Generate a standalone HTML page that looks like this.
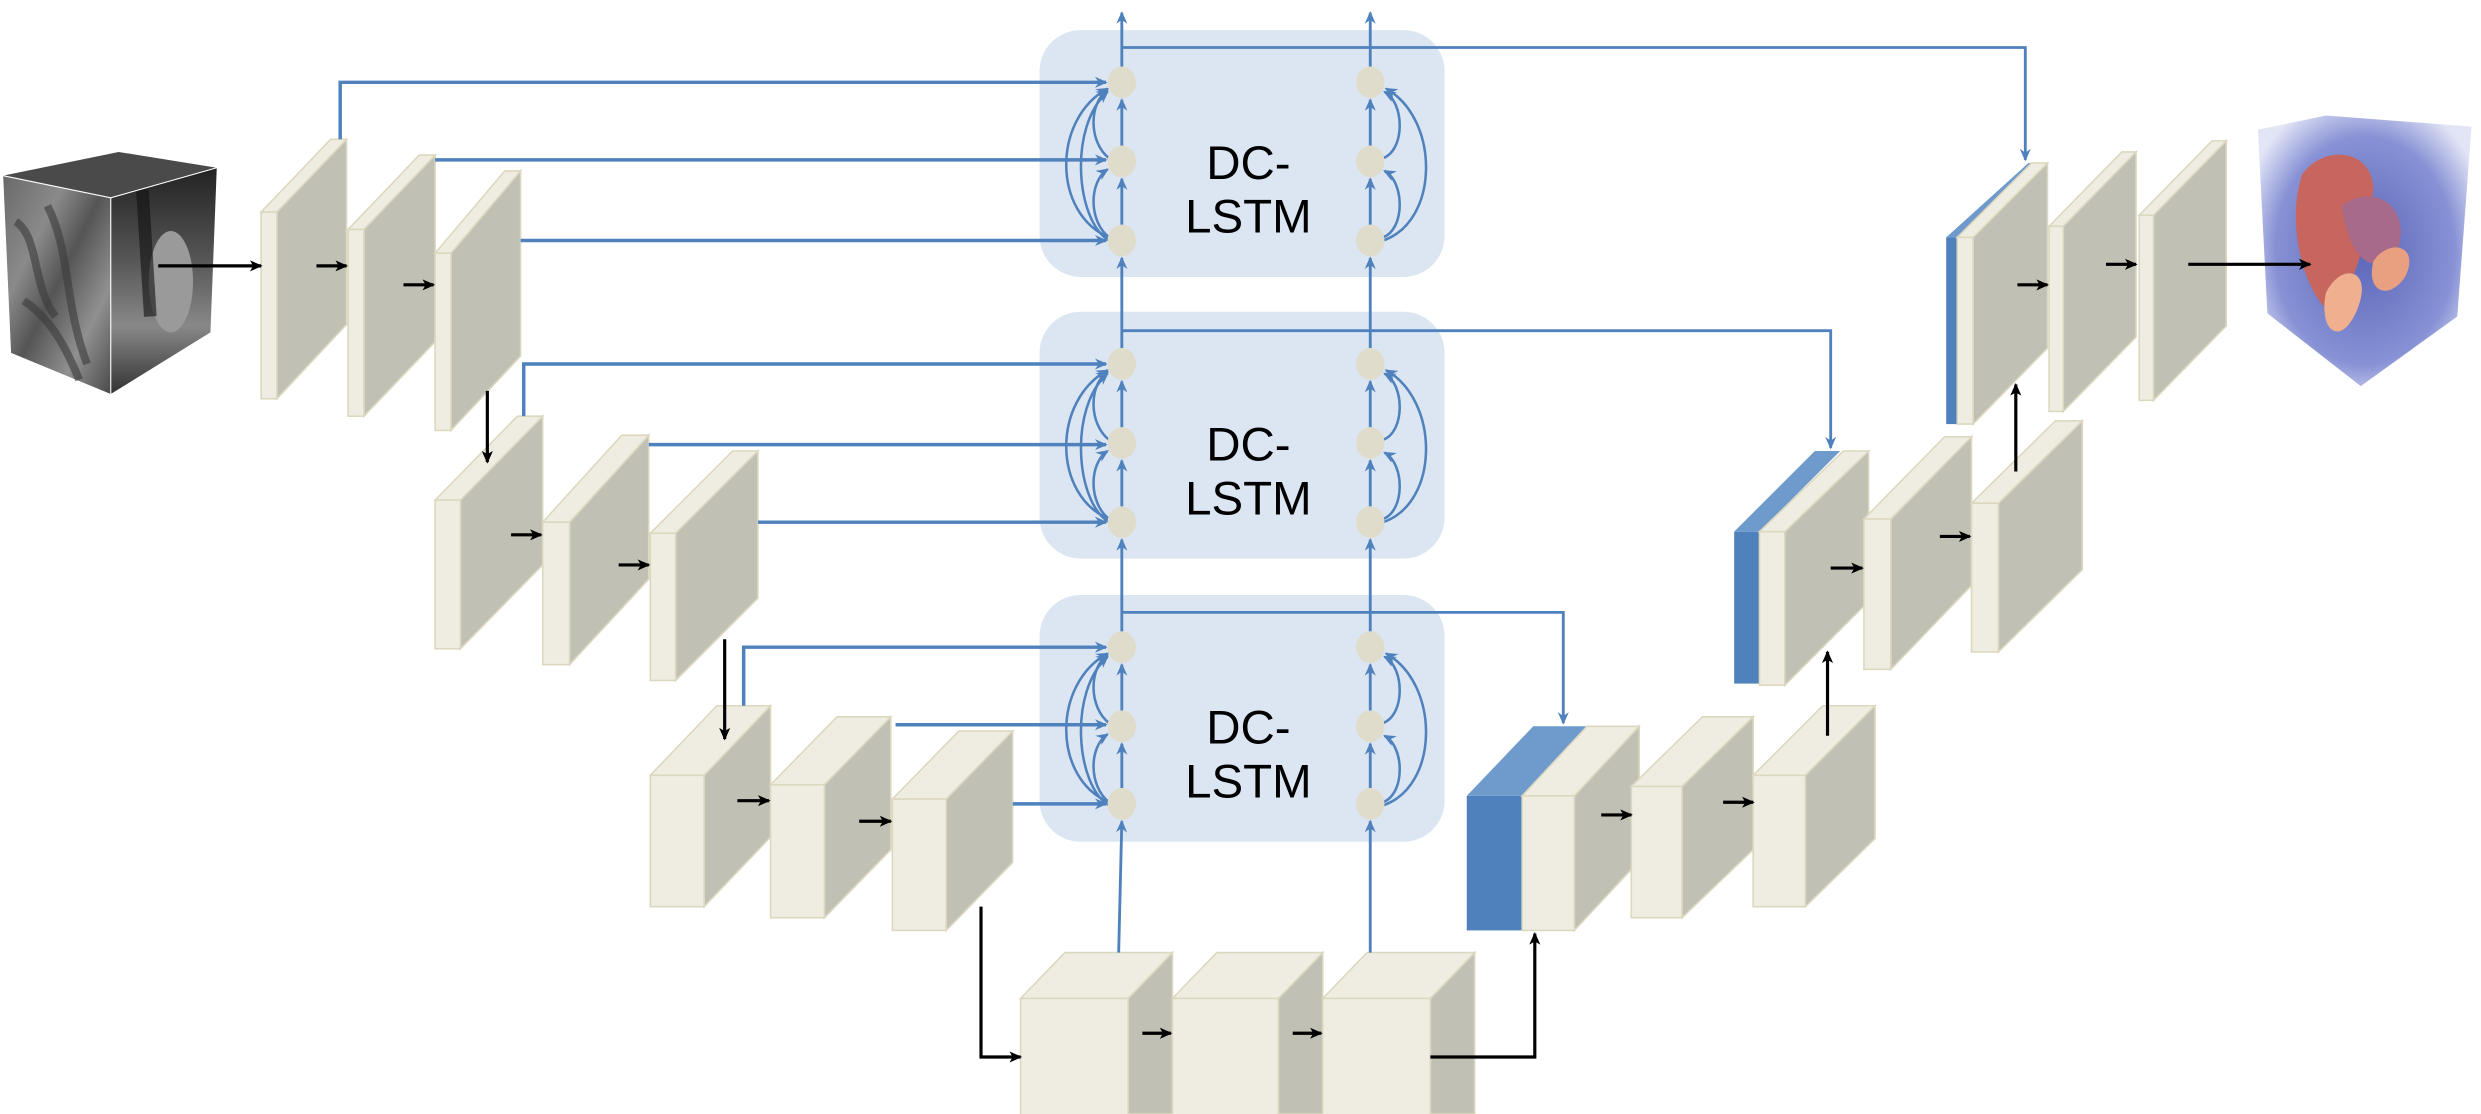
<!DOCTYPE html>
<html><head><style>html,body{margin:0;padding:0;background:#fff;}svg{display:block}</style></head>
<body>
<svg width="2481" height="1114" viewBox="0 0 1568 704" xmlns="http://www.w3.org/2000/svg" font-family="Liberation Sans, sans-serif">
<defs>
<marker id="ab" markerWidth="8" markerHeight="8" refX="7" refY="4" orient="auto" markerUnits="userSpaceOnUse"><path d="M0,0.5 L8,4 L0,7.5 L2.5,4 Z" fill="#4f81bd"/></marker>
<marker id="ak" markerWidth="8" markerHeight="8" refX="7" refY="4" orient="auto" markerUnits="userSpaceOnUse"><path d="M0,0.5 L8,4 L0,7.5 L2,4 Z" fill="#000"/></marker>
<linearGradient id="brain" x1="0" y1="0" x2="1" y2="1"><stop offset="0" stop-color="#6a6a6a"/><stop offset="0.3" stop-color="#8a8a8a"/><stop offset="0.5" stop-color="#555"/><stop offset="0.75" stop-color="#909090"/><stop offset="1" stop-color="#4a4a4a"/></linearGradient>
<linearGradient id="brain2" x1="0" y1="0" x2="0" y2="1"><stop offset="0" stop-color="#222"/><stop offset="0.4" stop-color="#555"/><stop offset="0.7" stop-color="#888"/><stop offset="1" stop-color="#333"/></linearGradient>
<radialGradient id="glow" cx="0.5" cy="0.5" r="0.6"><stop offset="0" stop-color="#4a55b0"/><stop offset="0.7" stop-color="#7a85d0"/><stop offset="1" stop-color="#dfe2f5"/></radialGradient>
</defs>
<g fill="#dce6f2">
<rect x="657" y="19" width="256" height="156" rx="26"/>
<rect x="657" y="197" width="256" height="156" rx="26"/>
<rect x="657" y="376" width="256" height="156" rx="26"/>
</g>
<g font-size="30" text-anchor="middle" fill="#000">
<text x="789" y="113">DC-</text><text x="789" y="147">LSTM</text>
<text x="789" y="291">DC-</text><text x="789" y="325">LSTM</text>
<text x="789" y="470">DC-</text><text x="789" y="504">LSTM</text>
</g>

<g stroke="#dcd8bf" stroke-width="1">
<path d="M175,134 L219,88 L219,205 L175,252Z" fill="#c0c0b5"/><path d="M165,134 L175,134 L219,88 L209,88Z" fill="#efede2"/><rect x="165" y="134" width="10" height="118" fill="#efede2"/>
<path d="M230,145 L275,98 L275,216 L230,263Z" fill="#c0c0b5"/><path d="M220,145 L230,145 L275,98 L265,98Z" fill="#efede2"/><rect x="220" y="145" width="10" height="118" fill="#efede2"/>
<path d="M285,160 L329,108 L329,225 L285,272Z" fill="#c0c0b5"/><path d="M275,160 L285,160 L329,108 L319,108Z" fill="#efede2"/><rect x="275" y="160" width="10" height="112" fill="#efede2"/>
<path d="M291,316 L343,263 L343,357 L291,410Z" fill="#c0c0b5"/><path d="M275,316 L291,316 L343,263 L327,263Z" fill="#efede2"/><rect x="275" y="316" width="16" height="94" fill="#efede2"/>
<path d="M360,330 L410,275 L410,366 L360,420Z" fill="#c0c0b5"/><path d="M343,330 L360,330 L410,275 L393,275Z" fill="#efede2"/><rect x="343" y="330" width="17" height="90" fill="#efede2"/>
<path d="M427,337 L479,285 L479,378 L427,430Z" fill="#c0c0b5"/><path d="M411,337 L427,337 L479,285 L463,285Z" fill="#efede2"/><rect x="411" y="337" width="16" height="93" fill="#efede2"/>
<path d="M445,490 L487,446 L487,529 L445,573Z" fill="#c0c0b5"/><path d="M411,490 L445,490 L487,446 L453,446Z" fill="#efede2"/><rect x="411" y="490" width="34" height="83" fill="#efede2"/>
<path d="M521,496 L563,453 L563,537 L521,580Z" fill="#c0c0b5"/><path d="M487,496 L521,496 L563,453 L529,453Z" fill="#efede2"/><rect x="487" y="496" width="34" height="84" fill="#efede2"/>
<path d="M598,505 L640,462 L640,545 L598,588Z" fill="#c0c0b5"/><path d="M564,505 L598,505 L640,462 L606,462Z" fill="#efede2"/><rect x="564" y="505" width="34" height="83" fill="#efede2"/>
<path d="M713,631 L741,602 L741,704 L713,704Z" fill="#c0c0b5"/><path d="M645,631 L713,631 L741,602 L673,602Z" fill="#efede2"/><rect x="645" y="631" width="68" height="74" fill="#efede2"/>
<path d="M808,631 L836,602 L836,704 L808,704Z" fill="#c0c0b5"/><path d="M741,631 L808,631 L836,602 L769,602Z" fill="#efede2"/><rect x="741" y="631" width="67" height="74" fill="#efede2"/>
<path d="M904,631 L932,602 L932,704 L904,704Z" fill="#c0c0b5"/><path d="M836,631 L904,631 L932,602 L864,602Z" fill="#efede2"/><rect x="836" y="631" width="68" height="74" fill="#efede2"/>
<path d="M927,503 L962,503 L1004,459 L969,459Z" fill="#6f9acc" stroke="none"/><rect x="927" y="503" width="35" height="85" fill="#4f81bd" stroke="none"/>
<path d="M995,503 L1036,459 L1036,544 L995,588Z" fill="#c0c0b5"/><path d="M962,503 L995,503 L1036,459 L1003,459Z" fill="#efede2"/><rect x="962" y="503" width="33" height="85" fill="#efede2"/>
<path d="M1063,497 L1108,453 L1108,537 L1063,580Z" fill="#c0c0b5"/><path d="M1031,497 L1063,497 L1108,453 L1076,453Z" fill="#efede2"/><rect x="1031" y="497" width="32" height="83" fill="#efede2"/>
<path d="M1141,490 L1185,446 L1185,530 L1141,573Z" fill="#c0c0b5"/><path d="M1108,490 L1141,490 L1185,446 L1152,446Z" fill="#efede2"/><rect x="1108" y="490" width="33" height="83" fill="#efede2"/>
<path d="M1096,336 L1112,336 L1163,285 L1147,285Z" fill="#6f9acc" stroke="none"/><rect x="1096" y="336" width="16" height="96" fill="#4f81bd" stroke="none"/>
<path d="M1128,336 L1181,285 L1181,380 L1128,433Z" fill="#c0c0b5"/><path d="M1112,336 L1128,336 L1181,285 L1165,285Z" fill="#efede2"/><rect x="1112" y="336" width="16" height="97" fill="#efede2"/>
<path d="M1195,328 L1246,276 L1246,370 L1195,423Z" fill="#c0c0b5"/><path d="M1178,328 L1195,328 L1246,276 L1229,276Z" fill="#efede2"/><rect x="1178" y="328" width="17" height="95" fill="#efede2"/>
<path d="M1263,318 L1316,266 L1316,360 L1263,412Z" fill="#c0c0b5"/><path d="M1246,318 L1263,318 L1316,266 L1299,266Z" fill="#efede2"/><rect x="1246" y="318" width="17" height="94" fill="#efede2"/>
<path d="M1230,150 L1237,150 L1289,103 L1282,103Z" fill="#6f9acc" stroke="none"/><rect x="1230" y="150" width="7" height="118" fill="#4f81bd" stroke="none"/>
<path d="M1247,150 L1294,103 L1294,220 L1247,268Z" fill="#c0c0b5"/><path d="M1237,150 L1247,150 L1294,103 L1284,103Z" fill="#efede2"/><rect x="1237" y="150" width="10" height="118" fill="#efede2"/>
<path d="M1304,143 L1350,96 L1350,213 L1304,260Z" fill="#c0c0b5"/><path d="M1295,143 L1304,143 L1350,96 L1341,96Z" fill="#efede2"/><rect x="1295" y="143" width="9" height="117" fill="#efede2"/>
<path d="M1361,136 L1407,89 L1407,206 L1361,253Z" fill="#c0c0b5"/><path d="M1352,136 L1361,136 L1407,89 L1398,89Z" fill="#efede2"/><rect x="1352" y="136" width="9" height="117" fill="#efede2"/>
</g>

<!-- input cube -->
<path d="M2,111 L70,125 L70,249 L7,223Z" fill="url(#brain)"/>
<path d="M70,125 L137,106 L133,210 L70,249Z" fill="url(#brain2)"/>
<path d="M2,111 L75,96 L137,106 L70,125Z" fill="#4a4a4a"/>
<path d="M10,140 C25,150 20,180 35,200 M30,130 C45,160 40,190 55,230 M15,190 C30,200 40,215 50,240" stroke="#3a3a3a" stroke-width="5" fill="none" opacity="0.6"/>
<ellipse cx="108" cy="178" rx="14" ry="32" fill="#9a9a9a"/>
<path d="M90,120 L95,200" stroke="#111" stroke-width="8" opacity="0.6"/>
<path d="M2,111 L70,125 L137,106 M70,125 L70,249" stroke="#fff" stroke-width="0.7" fill="none"/>
<!-- output cube -->
<path d="M1427,82 L1470,73 L1562,80 L1553,200 L1492,244 L1433,198Z" fill="url(#glow)" opacity="0.9"/>
<path d="M1455,110 C1470,90 1500,95 1500,120 C1495,150 1490,185 1470,195 C1455,180 1445,140 1455,110Z" fill="#c7665e"/>
<path d="M1480,130 C1500,115 1525,130 1515,160 C1500,175 1485,165 1480,130Z" fill="#a86a8a"/>
<path d="M1500,165 C1510,150 1530,155 1520,175 C1510,190 1495,185 1500,165Z" fill="#e8a080"/>
<path d="M1470,185 C1480,165 1500,170 1490,195 C1480,220 1465,210 1470,185Z" fill="#f0b090"/>

<g stroke="#4f81bd" stroke-width="2.2" fill="none" marker-end="url(#ab)">
<path d="M215,88 V52 H699"/>
<path d="M275,101 H699"/>
<path d="M329,152 H699"/>
<path d="M331,263 V230 H699"/>
<path d="M410,281 H699"/>
<path d="M479,330 H699"/>
<path d="M470,446 V409 H699"/>
<path d="M566,458 H699"/>
<path d="M640,508 H699"/>
</g>
<g stroke="#4f81bd" stroke-width="1.8" fill="none" marker-end="url(#ab)">
<path d="M709,30 H1280 V101"/>
<path d="M709,209 H1157 V283"/>
<path d="M709,387 H988 V457"/>
<path d="M707,602 L709,519"/><path d="M709,498 L709,470"/><path d="M709,449 L709,420"/>
<path d="M709,399 L709,341"/><path d="M709,320 L709,291"/><path d="M709,270 L709,241"/>
<path d="M709,220 L709,163"/><path d="M709,142 L709,113"/><path d="M709,92 L709,63"/><path d="M709,42 L709,8"/>
<path d="M866,602 L866,519"/><path d="M866,498 L866,470"/><path d="M866,449 L866,420"/>
<path d="M866,399 L866,341"/><path d="M866,320 L866,291"/><path d="M866,270 L866,241"/>
<path d="M866,220 L866,163"/><path d="M866,142 L866,113"/><path d="M866,92 L866,63"/><path d="M866,42 L866,8"/>
</g>
<g stroke="#4f81bd" stroke-width="1.6" fill="none" marker-end="url(#ab)">
<g><path d="M701,150 C688,140 688,115 700,107"/><path d="M701,100 C688,90 688,65 700,57"/><path d="M701,152 C680,140 675,80 700,58"/><path d="M701,150 C665,135 665,75 700,56"/></g>
<g transform="translate(0,178)"><path d="M701,150 C688,140 688,115 700,107"/><path d="M701,100 C688,90 688,65 700,57"/><path d="M701,152 C680,140 675,80 700,58"/><path d="M701,150 C665,135 665,75 700,56"/></g>
<g transform="translate(0,357)"><path d="M701,150 C688,140 688,115 700,107"/><path d="M701,100 C688,90 688,65 700,57"/><path d="M701,152 C680,140 675,80 700,58"/><path d="M701,150 C665,135 665,75 700,56"/></g>
<g><path d="M874,100 C888,95 888,65 875,58"/><path d="M874,150 C888,145 888,115 875,108"/><path d="M874,152 C910,140 910,75 876,56"/></g>
<g transform="translate(0,178)"><path d="M874,100 C888,95 888,65 875,58"/><path d="M874,150 C888,145 888,115 875,108"/><path d="M874,152 C910,140 910,75 876,56"/></g>
<g transform="translate(0,357)"><path d="M874,100 C888,95 888,65 875,58"/><path d="M874,150 C888,145 888,115 875,108"/><path d="M874,152 C910,140 910,75 876,56"/></g>
</g>
<g fill="#e0dccb">
<ellipse cx="709" cy="52" rx="9" ry="10"/><ellipse cx="709" cy="102" rx="9" ry="10"/><ellipse cx="709" cy="152" rx="9" ry="10"/>
<ellipse cx="709" cy="230" rx="9" ry="10"/><ellipse cx="709" cy="280" rx="9" ry="10"/><ellipse cx="709" cy="330" rx="9" ry="10"/>
<ellipse cx="709" cy="409" rx="9" ry="10"/><ellipse cx="709" cy="459" rx="9" ry="10"/><ellipse cx="709" cy="508" rx="9" ry="10"/>
<ellipse cx="866" cy="52" rx="9" ry="10"/><ellipse cx="866" cy="102" rx="9" ry="10"/><ellipse cx="866" cy="152" rx="9" ry="10"/>
<ellipse cx="866" cy="230" rx="9" ry="10"/><ellipse cx="866" cy="280" rx="9" ry="10"/><ellipse cx="866" cy="330" rx="9" ry="10"/>
<ellipse cx="866" cy="409" rx="9" ry="10"/><ellipse cx="866" cy="459" rx="9" ry="10"/><ellipse cx="866" cy="508" rx="9" ry="10"/>
</g>

<g stroke="#000" stroke-width="2" fill="none" marker-end="url(#ak)">
<path d="M100,168 H165"/>
<path d="M200,168 H219"/><path d="M255,180 H274"/>
<path d="M308,247 V292"/>
<path d="M323,338 H342"/><path d="M391,357 H410"/>
<path d="M458,404 V467"/>
<path d="M466,506 H486"/><path d="M543,519 H563"/>
<path d="M620,573 V668 H645"/>
<path d="M722,653 H740"/><path d="M817,653 H835"/>
<path d="M904,668 H970 V590"/>
<path d="M1012,515 H1031"/><path d="M1089,507 H1108"/>
<path d="M1155,465 V412"/>
<path d="M1157,359 H1177"/><path d="M1226,339 H1245"/>
<path d="M1274,298 V243"/>
<path d="M1275,180 H1294"/><path d="M1331,167 H1350"/>
<path d="M1383,167 H1460"/>
</g>
</svg>
</body></html>
